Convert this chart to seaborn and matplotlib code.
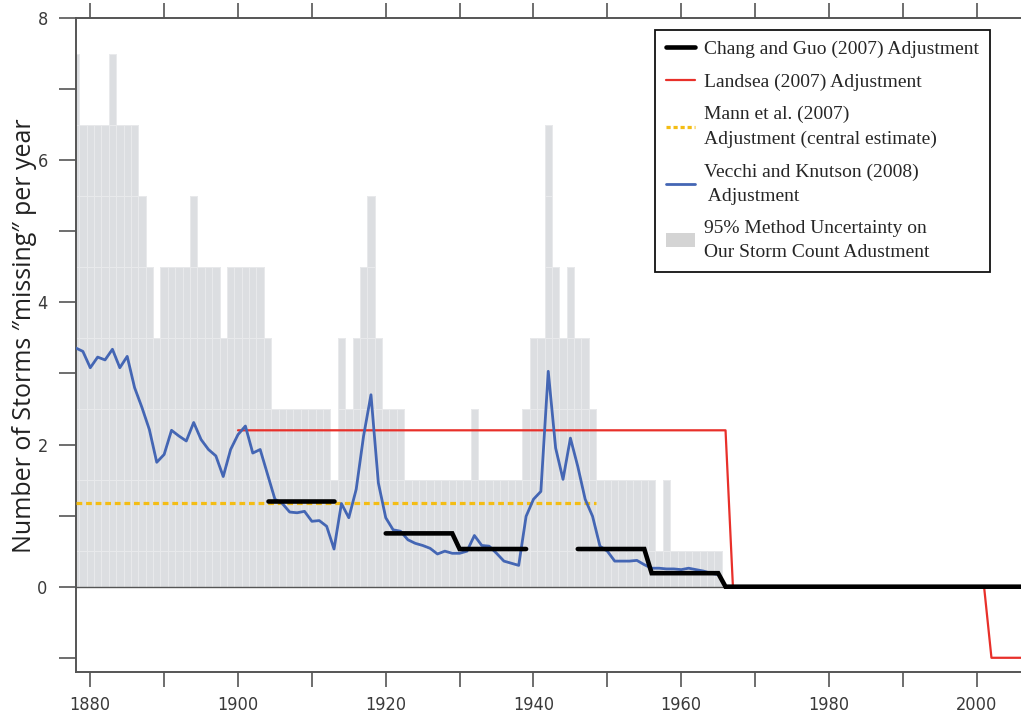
import numpy as np
import pandas as pd
import matplotlib
matplotlib.use("Agg")
import matplotlib.pyplot as plt
from matplotlib.lines import Line2D
from matplotlib.patches import Patch
import seaborn as sns

# ---------------- data ----------------
years = list(range(1878, 1966))

uncertainty_top = [
    7.5, 6.5, 6.5, 6.5, 6.5, 7.5, 6.5, 6.5, 6.5, 5.5,   # 1878-1887
    4.5, 3.5, 4.5, 4.5, 4.5, 4.5, 5.5, 4.5, 4.5, 4.5,   # 1888-1897
    3.5, 4.5, 4.5, 4.5, 4.5, 4.5, 3.5, 2.5, 2.5, 2.5,   # 1898-1907
    2.5, 2.5, 2.5, 2.5, 2.5, 1.5, 3.5, 2.5, 3.5, 4.5,   # 1908-1917
    5.5, 3.5, 2.5, 2.5, 2.5, 1.5, 1.5, 1.5, 1.5, 1.5,   # 1918-1927
    1.5, 1.5, 1.5, 1.5, 2.5, 1.5, 1.5, 1.5, 1.5, 1.5,   # 1928-1937
    1.5, 2.5, 3.5, 3.5, 6.5, 4.5, 3.5, 4.5, 3.5, 3.5,   # 1938-1947
    2.5, 1.5, 1.5, 1.5, 1.5, 1.5, 1.5, 1.5, 1.5, 0.5,   # 1948-1957
    1.5, 0.5, 0.5, 0.5, 0.5, 0.5, 0.5, 0.5,             # 1958-1965
]

vecchi_knutson = [
    3.36, 3.31, 3.08, 3.23, 3.19, 3.34, 3.08, 3.24, 2.80, 2.52,   # 1878-1887
    2.21, 1.75, 1.86, 2.20, 2.12, 2.05, 2.31, 2.07, 1.93, 1.84,   # 1888-1897
    1.55, 1.93, 2.14, 2.26, 1.88, 1.93, 1.58, 1.23, 1.17, 1.05,   # 1898-1907
    1.04, 1.06, 0.92, 0.93, 0.85, 0.53, 1.17, 0.97, 1.37, 2.12,   # 1908-1917
    2.70, 1.46, 0.97, 0.80, 0.78, 0.66, 0.61, 0.58, 0.54, 0.46,   # 1918-1927
    0.50, 0.47, 0.47, 0.50, 0.72, 0.58, 0.57, 0.47, 0.36, 0.33,   # 1928-1937
    0.30, 0.99, 1.23, 1.34, 3.03, 1.95, 1.51, 2.09, 1.69, 1.23,   # 1938-1947
    0.99, 0.57, 0.50, 0.36, 0.36, 0.36, 0.37, 0.31, 0.26, 0.26,   # 1948-1957
    0.25, 0.25, 0.24, 0.26, 0.24, 0.22, 0.19, 0.17,               # 1958-1965
]

chang_guo_years = [1904, 1913, 1920, 1929, 1930, 1939, 1946, 1955, 1956, 1965, 1966, 2006]
chang_guo_values = [1.21, 1.21, 0.75, 0.75, 0.53, 0.53, 0.53, 0.53, 0.19, 0.19, 0.0, 0.0]
chang_guo_segment = [1, 1, 2, 2, 2, 2, 3, 3, 3, 3, 3, 3]

landsea_years = [1900, 1966, 1967, 2001, 2002, 2006]
landsea_values = [2.2, 2.2, 0.0, 0.0, -1.0, -1.0]

mann_years = [1878, 1948.5]
mann_values = [1.18, 1.18]

x_tick_values = list(range(1880, 2010, 10))
x_tick_labels = ["1880", "", "1900", "", "1920", "", "1940", "", "1960", "", "1980", "", "2000"]
y_tick_values = list(range(-1, 9))
y_tick_labels = ["", "0", "", "2", "", "4", "", "6", "", "8"]

legend_labels = [
    "Chang and Guo (2007) Adjustment",
    "Landsea (2007) Adjustment",
    "Mann et al. (2007)\nAdjustment (central estimate)",
    "Vecchi and Knutson (2008)\n Adjustment",
    "95% Method Uncertainty on\nOur Storm Count Adustment",
]

# ---------------- styling ----------------
sns.set_style("white")
plt.rcParams["font.family"] = ["Open Sans", "DejaVu Sans"]

C_GRAY = "#dcdee1"
C_EDGE = "#e9eaec"
C_BLUE = "#4466b4"
C_RED = "#e8302a"
C_YELLOW = "#f4bd14"
C_BLACK = "#000000"
C_AXIS = "#555555"

fig = plt.figure(figsize=(10.21, 7.13), dpi=100)
W, H = 1021.0, 713.0
ax = fig.add_axes([75.5 / W, 1 - 672 / H, 1 - 75.5 / W, (672 - 18) / H])

# uncertainty bars, drawn in layers so each unit level shows a faint edge
unc_df = pd.DataFrame({"year": years, "top": uncertainty_top})
levels = sorted(set(np.arange(0.5, max(uncertainty_top) + 0.01, 1.0)), reverse=True)
for lev in levels:
    layer = unc_df.copy()
    layer["top"] = np.minimum(layer["top"], lev)
    sns.barplot(data=layer, x="year", y="top", native_scale=True, width=1.0,
                color=C_GRAY, saturation=1, edgecolor=C_EDGE, linewidth=0.7,
                errorbar=None, ax=ax, zorder=1)

ax.axhline(0, color=C_AXIS, lw=1.0, zorder=2)

# Mann et al.
mann_df = pd.DataFrame({"year": mann_years, "v": mann_values})
sns.lineplot(data=mann_df, x="year", y="v", color=C_YELLOW, lw=2.3,
             linestyle=(0, (1.8, 1.2)), ax=ax, zorder=3)

# Landsea
land_df = pd.DataFrame({"year": landsea_years, "v": landsea_values})
sns.lineplot(data=land_df, x="year", y="v", color=C_RED, lw=1.6, ax=ax,
             estimator=None, sort=False, zorder=4)

# Vecchi and Knutson
vk_df = pd.DataFrame({"year": years, "v": vecchi_knutson})
sns.lineplot(data=vk_df, x="year", y="v", color=C_BLUE, lw=2.0, ax=ax, zorder=5)

# Chang and Guo
cg_df = pd.DataFrame({"year": chang_guo_years, "v": chang_guo_values, "seg": chang_guo_segment})
sns.lineplot(data=cg_df, x="year", y="v", units="seg", estimator=None, color=C_BLACK,
             lw=3.3, ax=ax, zorder=6, solid_joinstyle="miter")

# ---------------- axes ----------------
ax.set_xlim(1878, 2006)
ax.set_ylim(-1.2, 8)
ax.set_xticks(x_tick_values)
ax.set_xticklabels(x_tick_labels)
ax.set_yticks(y_tick_values)
ax.set_yticklabels(y_tick_labels)
ax.set_xlabel("")

for side in ["left", "bottom", "top"]:
    ax.spines[side].set_visible(True)
    ax.spines[side].set_color(C_AXIS)
    ax.spines[side].set_linewidth(1.4)
ax.spines["right"].set_visible(False)

ax.tick_params(axis="x", which="both", direction="out", length=11, width=1.2,
               color=C_AXIS, top=True, bottom=True, labeltop=False,
               labelsize=13, labelcolor="#3a3a3a", pad=6)
ax.tick_params(axis="y", which="both", direction="out", length=12, width=1.2,
               color=C_AXIS, left=True, right=False, labelsize=13,
               labelcolor="#3a3a3a", pad=8)
for lab in ax.get_xticklabels() + ax.get_yticklabels():
    lab.set_fontstretch("condensed")
    lab.set_family(["DejaVu Sans"])

ax.set_ylabel("Number of Storms \u2033missing\u2033 per year", fontsize=18,
              color="#222222", family=["Open Sans", "DejaVu Sans"])
ax.yaxis.set_label_coords(-0.041, 0.514)

# ---------------- legend ----------------
handles = [
    Line2D([], [], color=C_BLACK, lw=3.3),
    Line2D([], [], color=C_RED, lw=1.6),
    Line2D([], [], color=C_YELLOW, lw=2.3, linestyle=(0, (1.3, 0.9))),
    Line2D([], [], color=C_BLUE, lw=2.0),
    Patch(facecolor="#d4d4d4", edgecolor="none"),
]
leg = ax.legend(handles, legend_labels, loc="upper right",
                bbox_to_anchor=(0.967, 0.982), borderaxespad=0,
                prop={"family": "Liberation Serif", "size": 14},
                frameon=True, fancybox=False, framealpha=1,
                edgecolor="#111111", labelspacing=0.78, handlelength=1.5,
                handletextpad=0.45, borderpad=0.55)
for t in leg.get_texts():
    t.set_linespacing(1.55)
leg.get_frame().set_linewidth(1.3)
leg.set_zorder(10)

fig.savefig("out.png", dpi=100)
